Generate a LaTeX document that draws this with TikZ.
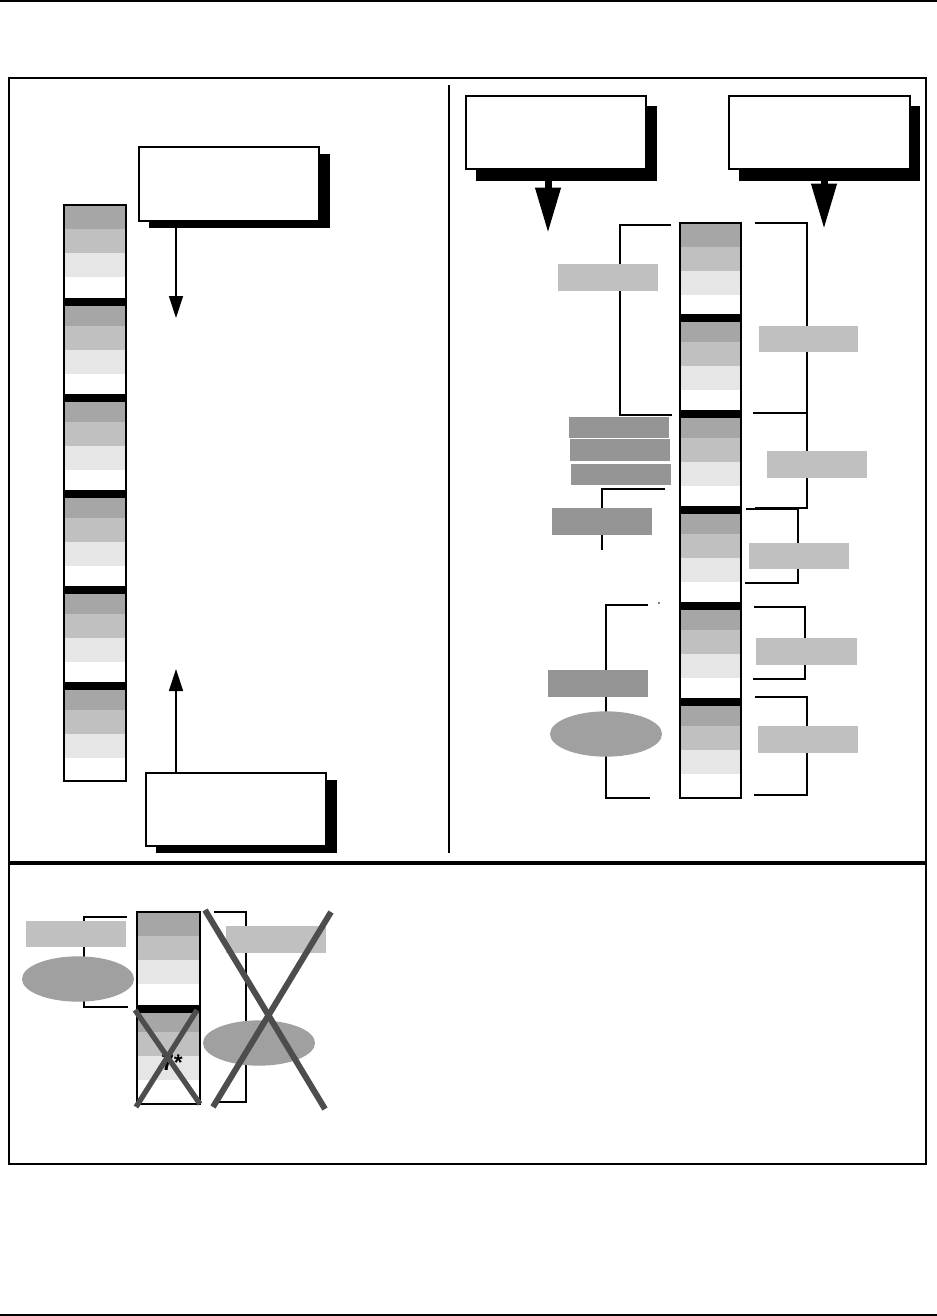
\documentclass[tikz,border=0pt]{standalone}
\usepackage{fontspec}
\setmainfont{Liberation Sans}
\usetikzlibrary{arrows.meta,fit,shapes.geometric}
\definecolor{bandA}{HTML}{A6A6A6}
\definecolor{bandB}{HTML}{C0C0C0}
\definecolor{bandC}{HTML}{E6E6E6}
\definecolor{lablight}{HTML}{C0C0C0}
\definecolor{labdark}{HTML}{959595}
\definecolor{ellgray}{HTML}{A0A0A0}
\definecolor{crossgray}{HTML}{4D4D4D}
\newcommand\bandunit[3]{%
  \fill[black] (#1,#3) rectangle (#2,#3+8);
  \fill[bandA] (#1,#3+8) rectangle (#2,#3+28);
  \fill[bandB] (#1,#3+28) rectangle (#2,#3+52);
  \fill[bandC] (#1,#3+52) rectangle (#2,#3+76);}
\newcommand\firstunit[3]{%
  \fill[bandA] (#1,#3) rectangle (#2,#3+24);
  \fill[bandB] (#1,#3+24) rectangle (#2,#3+48);
  \fill[bandC] (#1,#3+48) rectangle (#2,#3+72);}
\tikzset{
  whitebox/.style={draw=black, line width=1pt, fill=white, inner sep=0pt},
  shadowfill/.style={fill=black, draw=none, inner sep=0pt},
  lightlab/.style={fill=lablight, draw=none, inner sep=0pt},
  darklab/.style={fill=labdark, draw=none, inner sep=0pt},
  ovalnode/.style={ellipse, fill=ellgray, draw=none, minimum width=84pt, minimum height=34pt, inner sep=0pt},
  bracket/.style={line width=1pt},
  thinarrow/.style={line width=1pt, -{Triangle[length=16.5pt,width=10.5pt]}},
  fatarrow/.style={line width=5.25pt, -{Triangle[length=34pt,width=18pt]}},
  stackline/.style={line width=1.1pt},
  bigcross/.style={crossgray, line width=4.5pt},
  smallcross/.style={crossgray, line width=4pt},
}
\begin{document}
\begin{tikzpicture}[x=0.75pt,y=-0.75pt]
\useasboundingbox (0,0) rectangle (937,1316);
% page rules
\draw[line width=1.1pt] (0,1) -- (937,1);
\draw[line width=1.1pt] (0,1315) -- (937,1315);
% frame
\draw[line width=1pt] (9,78) rectangle (926,1164);
\draw[line width=1.5pt] (449,85) -- (449,853);
\draw[line width=3pt] (9,863) -- (926,863);

% ---------- left panel ----------
\firstunit{64}{126}{205}
\foreach \B in {298,394,490,586,682} {\bandunit{64}{126}{\B}}
\draw[stackline] (64,205) rectangle (126,781);

\node[shadowfill, fit={(149,154) (330,228)}] (tls) {};
\node[whitebox, fit={(139,147) (319,221)}] (tl) {};
\node[shadowfill, fit={(156,780) (337,853)}] (bls) {};
\node[whitebox, fit={(146,773) (326,846)}] (bl) {};
\coordinate (tltip) at (176,318);
\coordinate (bltip) at (176,669);
\draw[thinarrow] (tls.south -| tltip) -- (tltip);
\draw[thinarrow] (bl.north -| bltip) -- (bltip);

% ---------- right panel ----------
\firstunit{680}{741}{223}
\foreach \B in {314,410,506,602,698} {\bandunit{680}{741}{\B}}
\draw[stackline] (680,223) rectangle (741,798);

\node[shadowfill, fit={(476,106) (657,181)}] (r1s) {};
\node[whitebox, fit={(466,96) (646,169)}] (r1) {};
\node[shadowfill, fit={(739,106) (920,181)}] (r2s) {};
\node[whitebox, fit={(729,96) (910,169)}] (r2) {};
\coordinate (r1tip) at (548,233);
\coordinate (r2tip) at (824,229);
\draw[fatarrow] (r1s.south -| r1tip) -- (r1tip);
\draw[fatarrow] (r2s.south -| r2tip) -- (r2tip);

% left-side brackets
\draw[bracket] (671,225) -- (620,225) -- (620,415) -- (672,415);
\node[lightlab, fit={(558,264) (658,291)}] (la) {};
\node[darklab, fit={(569,417) (669,438)}] (d1) {};
\node[darklab, fit={(570,439) (670,461)}] (d2) {};
\node[darklab, fit={(571,464) (671,485)}] (d3) {};
\draw[bracket] (665,489) -- (602,489) -- (602,550);
\node[darklab, fit={(552,508) (652,535)}] (d4) {};
\draw[bracket] (648,605) -- (606,605) -- (606,798) -- (650,798);
\fill (659,603) circle (0.8);
\node[darklab, fit={(548,670) (648,697)}] (d5) {};
\node[ovalnode] (e1) at (606,734) {};

% right-side brackets
\draw[bracket] (755,223) -- (807,223) -- (807,413) -- (753,413);
\node[lightlab, fit={(759,326) (858,352)}] (ra) {};
\draw[bracket] (807,413) -- (807,508) -- (755,508);
\node[lightlab, fit={(767,451) (867,478)}] (rb) {};
\draw[bracket] (746,509) -- (798,509) -- (798,583) -- (745,583);
\node[lightlab, fit={(749,543) (849,569)}] (rc) {};
\draw[bracket] (754,607) -- (805,607) -- (805,679) -- (753,679);
\node[lightlab, fit={(756,638) (857,665)}] (rd) {};
\draw[bracket] (755,697) -- (807,697) -- (807,795) -- (754,795);
\node[lightlab, fit={(758,726) (858,753)}] (re) {};

% ---------- bottom panel ----------
\firstunit{137}{200}{912}
\fill[black] (137,1005) rectangle (200,1013);
\fill[bandA] (137,1013) rectangle (200,1032);
\fill[bandB] (137,1032) rectangle (200,1056);
\fill[bandC] (137,1056) rectangle (200,1080);
\draw[stackline] (137,912) rectangle (200,1104);
\node[font=\bfseries\fontsize{17}{17}\selectfont, inner sep=0pt] (star) at (172,1063) {7*};

\draw[bracket] (127,917) -- (84,917) -- (84,1007) -- (128,1007);
\node[lightlab, fit={(26,921) (126,947)}] (bla) {};
\node[ovalnode] (be1) at (78,979) {};

\draw[bracket] (214,912) -- (246,912) -- (246,1102) -- (214,1102);
\node[lightlab, fit={(226,926) (326,953)}] (bra) {};
\node[ovalnode] (be2) at (259,1043) {};

\draw[smallcross] (135,1010) -- (200,1104);
\draw[smallcross] (197,1010) -- (136,1107);
\draw[bigcross] (205,910) -- (325,1109);
\draw[bigcross] (331,912) -- (213,1107);
\end{tikzpicture}
\end{document}
